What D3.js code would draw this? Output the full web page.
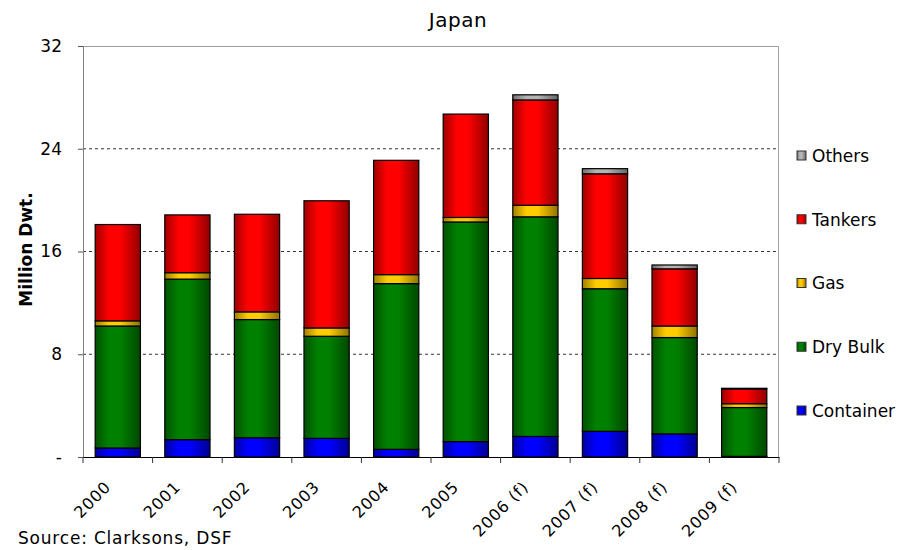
<!DOCTYPE html>
<meta charset="utf-8">
<script src="https://cdnjs.cloudflare.com/ajax/libs/d3/7.3.0/d3.min.js"></script>
<style>
  body { margin: 0; background: #fff; }
  text { font-family: "DejaVu Sans", Verdana, sans-serif; }
</style>
<div id="chart"></div>
<script>

    // data (million dwt)
    const years = ["2000", "2001", "2002", "2003", "2004", "2005", "2006 (f)", "2007 (f)", "2008 (f)", "2009 (f)"];
    const container = [0.7, 1.35, 1.5, 1.45, 0.6, 1.2, 1.6, 2.0, 1.8, 0.05];
    const dryBulk = [9.5, 12.5, 9.2, 7.95, 12.9, 17.1, 17.1, 11.1, 7.5, 3.8];
    const gas = [0.4, 0.5, 0.6, 0.65, 0.7, 0.35, 0.9, 0.8, 0.9, 0.3];
    const tankers = [7.5, 4.5, 7.6, 9.9, 8.9, 8.05, 8.2, 8.15, 4.45, 1.15];
    const others = [0, 0, 0, 0, 0, 0, 0.4, 0.4, 0.3, 0.05];
    const yTicks = [0, 8, 16, 24, 32];
    const yTickLabels = ["-", "8", "16", "24", "32"];

    const series = [
        { key: "Container", values: container, color: "#0000ff" },
        { key: "Dry Bulk", values: dryBulk, color: "#008000" },
        { key: "Gas", values: gas, color: "#ffcc00" },
        { key: "Tankers", values: tankers, color: "#ff0000" },
        { key: "Others", values: others, color: "#b4b4b4" }
    ];

    const rows = years.map((y, i) => {
        const r = { year: y };
        series.forEach(s => r[s.key] = s.values[i]);
        return r;
    });

    var margin = { top: 46, right: 136, bottom: 93, left: 83 },
        width = 915 - margin.left - margin.right,
        height = 550 - margin.top - margin.bottom;

    var svgRoot = d3.select("#chart")
        .append("svg")
        .attr("width", 915)
        .attr("height", 550);

    var defs = svgRoot.append("defs");
    series.forEach((s, i) => {
        const g = defs.append("linearGradient")
            .attr("id", "grad" + i)
            .attr("x1", "0%").attr("y1", "0%")
            .attr("x2", "100%").attr("y2", "0%");
        const c = d3.color(s.color);
        g.append("stop").attr("offset", 0).attr("stop-color", c.darker(1.3));
        g.append("stop").attr("offset", 0.3).attr("stop-color", c);
        g.append("stop").attr("offset", 0.55).attr("stop-color", c);
        g.append("stop").attr("offset", 1).attr("stop-color", c.darker(1.6));
    });

    var svg = svgRoot.append("g")
        .attr("transform", "translate(" + margin.left + "," + margin.top + ")");

    var x = d3.scaleBand()
        .domain(years)
        .range([0, width])
        .paddingInner(0.35)
        .paddingOuter(0.175);

    var y = d3.scaleLinear()
        .domain([0, 32])
        .range([height, 0]);

    // gridlines
    svg.append("g")
        .selectAll("line")
        .data([8, 16, 24])
        .join("line")
        .attr("x1", 0).attr("x2", width)
        .attr("y1", d => y(d)).attr("y2", d => y(d))
        .attr("stroke", "#333")
        .attr("stroke-dasharray", "3,3");

    // plot border (top and right)
    svg.append("path")
        .attr("d", "M0,0.5H" + (width - 0.5) + "V" + height)
        .attr("fill", "none")
        .attr("stroke", "#a0a0a0");

    // stacked bars
    var stack = d3.stack().keys(series.map(s => s.key));
    var stacked = stack(rows);

    svg.append("g")
        .selectAll("g")
        .data(stacked)
        .join("g")
        .attr("fill", (d, i) => "url(#grad" + i + ")")
        .selectAll("rect")
        .data(d => d.filter(p => p[1] - p[0] > 0))
        .join("rect")
        .attr("x", d => x(d.data.year))
        .attr("width", x.bandwidth())
        .attr("y", d => y(d[1]))
        .attr("height", d => y(d[0]) - y(d[1]))
        .attr("stroke", "#000")
        .attr("stroke-width", 1.2);

    // y axis
    var yAxis = svg.append("g")
        .call(d3.axisLeft(y).tickValues(yTicks).tickFormat((d, i) => yTickLabels[i]).tickSize(5).tickPadding(16));
    yAxis.select(".domain").attr("stroke", "#808080");
    yAxis.selectAll(".tick line").attr("stroke", "#555");
    yAxis.selectAll("text").style("font-size", "17px").attr("fill", "#000");

    // x axis
    var xAxis = svg.append("g")
        .attr("transform", "translate(0," + height + ")")
        .call(d3.axisBottom(x).tickSize(0).tickFormat(""));
    xAxis.select(".domain").attr("stroke", "#000");
    xAxis.selectAll(".tick").remove();

    var bounds = d3.range(years.length + 1).map(i => i * width / years.length);
    xAxis.selectAll(".sep")
        .data(bounds)
        .join("line")
        .attr("x1", d => d).attr("x2", d => d)
        .attr("y1", 0).attr("y2", 6)
        .attr("stroke", "#333");

    svg.append("g")
        .selectAll("text")
        .data(years)
        .join("text")
        .attr("transform", d => "translate(" + (x(d) + x.bandwidth() / 2 - 6) + "," + (height + 31) + ") rotate(-45)")
        .attr("text-anchor", "end")
        .style("font-size", "16px")
        .style("letter-spacing", "0.8px")
        .text(d => d);

    // title and labels
    svgRoot.append("text")
        .attr("x", 458).attr("y", 27)
        .attr("text-anchor", "middle")
        .style("font-size", "20px")
        .style("letter-spacing", "0.5px")
        .text("Japan");

    svgRoot.append("text")
        .attr("transform", "translate(32," + (margin.top + height / 2 - 2) + ") rotate(-90)")
        .attr("text-anchor", "middle")
        .style("font-size", "17px")
        .style("font-weight", "bold")
        .text("Million Dwt.");

    svgRoot.append("text")
        .attr("x", 18).attr("y", 544)
        .style("font-size", "17px")
        .style("letter-spacing", "0.8px")
        .text("Source: Clarksons, DSF");

    // legend (top to bottom: Others ... Container)
    var legendY = d3.scalePoint()
        .domain(series.map(s => s.key).reverse())
        .range([156, 411]);

    var legend = svgRoot.append("g")
        .selectAll("g")
        .data(series)
        .join("g")
        .attr("transform", d => "translate(797," + legendY(d.key) + ")");

    legend.append("rect")
        .attr("x", 0).attr("y", -5)
        .attr("width", 9).attr("height", 9)
        .attr("fill", (d, i) => "url(#grad" + i + ")")
        .attr("stroke", "#333");

    legend.append("text")
        .attr("x", 15).attr("y", 0)
        .attr("dy", "0.35em")
        .style("font-size", "17px")
        .text(d => d.key);

</script>
